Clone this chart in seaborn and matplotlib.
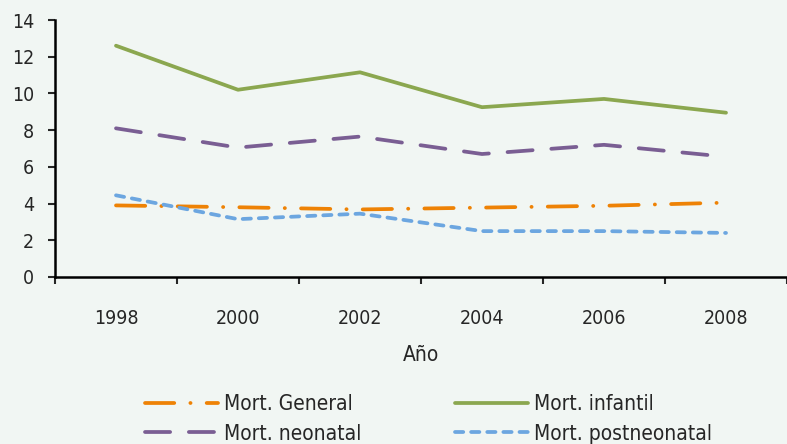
import pandas as pd
import matplotlib.pyplot as plt
import seaborn as sns

# data
years = ['1998', '2000', '2002', '2004', '2006', '2008']
mort_general = [3.9, 3.8, 3.68, 3.78, 3.88, 4.05]
mort_infantil = [12.6, 10.2, 11.15, 9.25, 9.7, 8.95]
mort_neonatal = [8.1, 7.05, 7.65, 6.7, 7.2, 6.55]
mort_postneonatal = [4.45, 3.15, 3.45, 2.5, 2.5, 2.4]

series_names = ['Mort. General', 'Mort. infantil', 'Mort. neonatal', 'Mort. postneonatal']
colors = ['#ee8205', '#8ba74f', '#7a5e93', '#6ca6e0']
dashes = [(7.8, 4.3, 0.05, 4.3), None, (6.7, 5.0), (2.2, 2.1)]

df = pd.DataFrame({
    'year': years * 4,
    'value': mort_general + mort_infantil + mort_neonatal + mort_postneonatal,
    'serie': sum([[n] * len(years) for n in series_names], []),
})

sns.set_style('ticks')
plt.rcParams['font.family'] = ['DejaVu Sans']
plt.rcParams['font.stretch'] = 'condensed'
bg = '#f1f6f3'

fig = plt.figure(figsize=(7.87, 4.44), dpi=100, facecolor=bg)
ax = fig.add_axes([55 / 787, 167 / 444, 1 - 55 / 787, 257 / 444])
ax.set_facecolor(bg)

for name, col, d in zip(series_names, colors, dashes):
    sub = df[df['serie'] == name]
    pos = [years.index(y) for y in sub['year']]
    sns.lineplot(x=pos, y=sub['value'].values, ax=ax, color=col, linewidth=2.7, label=name)
    l = ax.get_lines()[-1]
    if d is not None:
        l.set_dashes(d)
    l.set_solid_capstyle('round')
    l.set_dash_capstyle('round')

ax.set_xlim(-0.5, 5.5)
ax.set_ylim(0, 14)
ax.set_yticks(range(0, 15, 2))
ax.set_xticks([i + 0.5 for i in range(-1, 6)])
ax.set_xticklabels([])
ax.set_xticks(range(6), minor=True)
ax.set_xticklabels(years, minor=True)
ax.tick_params(axis='x', which='minor', length=0, pad=23, labelsize=14)
ax.tick_params(axis='x', which='major', length=5, width=1.5, direction='out')
ax.tick_params(axis='y', length=5, width=1.5, labelsize=14, pad=10)
ax.set_xlabel('Año', fontsize=15, labelpad=12)
ax.set_ylabel('')
for s in ['top', 'right']:
    ax.spines[s].set_visible(False)
for s in ['left', 'bottom']:
    ax.spines[s].set_linewidth(1.8)
    ax.spines[s].set_color('black')

handles, labels = ax.get_legend_handles_labels()
ax.legend_.remove()
order = [0, 2, 1, 3]
fig.legend([handles[i] for i in order], [labels[i] for i in order], ncol=2,
           loc='upper left', bbox_to_anchor=(145 / 787, 0.112), frameon=False, fontsize=15,
           handlelength=3.5, handletextpad=0.3, columnspacing=4.5, labelspacing=0.45,
           borderpad=0, borderaxespad=0)

plt.savefig('out.png', dpi=100, facecolor=bg)
